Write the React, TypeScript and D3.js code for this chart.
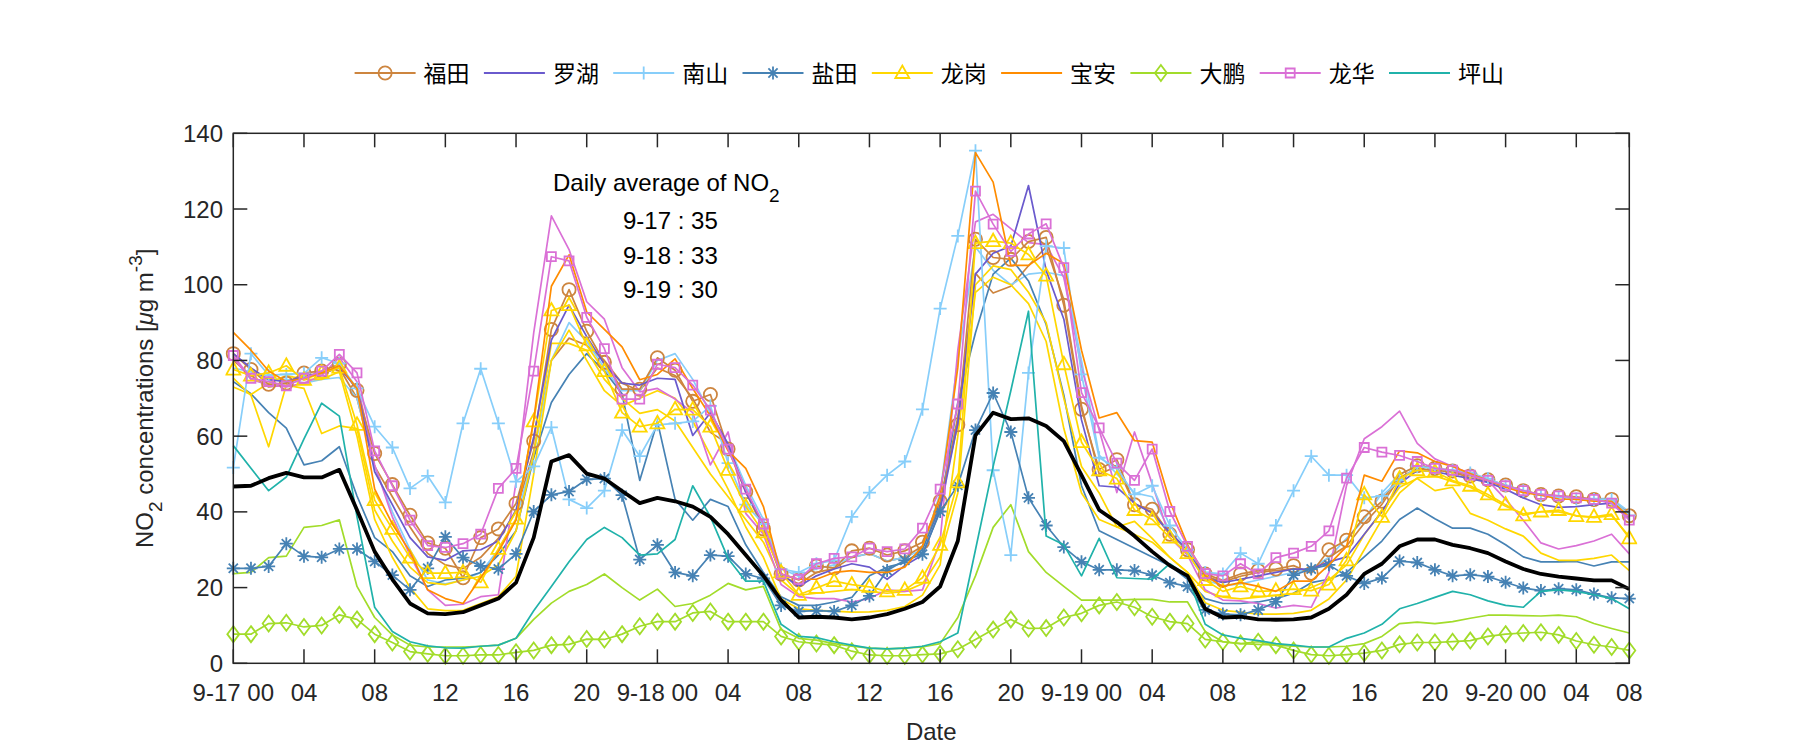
import React from 'react';
import * as d3 from 'd3';

// ---------- data (hourly NO2, 9-17 00 .. 9-20 07/08) ----------
const hourIndex = d3.range(80);
const xTickPos = [0, 4, 8, 12, 16, 20, 24, 28, 32, 36, 40, 44, 48, 52, 56, 60, 64, 68, 72, 76, 79];
const xTickLabels = ['9-17 00', '04', '08', '12', '16', '20', '9-18 00', '04', '08', '12', '16', '20', '9-19 00', '04', '08', '12', '16', '20', '9-20 00', '04', '08'];
const yTicks = [0, 20, 40, 60, 80, 100, 120, 140];

const futian = [81.8, 77.6, 73.7, 74.0, 76.7, 77.2, 79.0, 72.1, 55.4, 47.2, 39.1, 31.8, 30.4, 22.6, 33.2, 35.5, 42.2, 58.7, 88.2, 98.7, 87.7,
  79.5, 72.4, 72.4, 80.7, 77.4, 69.2, 71.0, 56.6, 45.3, 35.5, 23.6, 22.0, 25.7, 25.2, 29.7, 30.4, 28.6, 29.7, 32.0, 42.8, 63.0,
  112.0, 107.2, 106.7, 111.4, 112.5, 94.6, 67.1, 51.2, 53.8, 41.9, 40.7, 34.1, 30.0, 23.6, 21.9, 23.6, 24.5, 24.9, 25.8, 23.8,
  30.0, 32.5, 38.7, 42.8, 49.9, 52.2, 51.5, 50.8, 49.5, 48.5, 47.1, 45.6, 44.6, 44.2, 44.0, 43.3, 43.3, 39.0];
const futian2 = [80.0, 76.0, 73.0, 73.5, 76.0, 76.5, 78.0, 70.0, 52.0, 44.0, 36.0, 29.0, 26.0, 25.0, 28.0, 33.0, 40.0, 56.0, 80.0, 85.9, 84.0,
  80.0, 74.0, 72.0, 78.0, 76.0, 70.0, 61.0, 58.0, 46.0, 36.0, 23.0, 21.0, 24.0, 25.0, 28.0, 29.0, 27.0, 28.0, 31.0, 42.0, 65.0,
  103.0, 97.8, 99.6, 105.0, 110.0, 96.0, 68.0, 50.0, 52.0, 42.0, 40.0, 34.0, 30.0, 23.0, 21.5, 23.0, 24.0, 24.5, 25.0, 24.0,
  28.0, 31.0, 37.0, 42.0, 49.0, 51.5, 51.0, 50.5, 49.0, 48.0, 47.0, 45.5, 44.5, 44.0, 43.8, 43.2, 43.2, 39.5];
const luohu = [81.8, 78.0, 74.9, 74.4, 75.8, 76.7, 78.1, 72.6, 50.6, 41.9, 33.2, 28.1, 27.2, 29.7, 30.0, 32.3, 40.5, 59.8, 85.4, 94.6, 86.3,
  79.0, 74.0, 73.5, 75.3, 75.0, 60.2, 66.2, 57.9, 45.1, 36.8, 23.6, 20.3, 23.1, 24.9, 26.3, 25.4, 22.2, 25.8, 28.6, 40.5, 63.4,
  102.8, 108.3, 110.2, 126.2, 103.8, 90.9, 64.3, 46.9, 46.5, 42.3, 39.6, 34.6, 30.0, 22.6, 21.3, 22.2, 23.1, 24.0, 24.9, 24.9,
  26.8, 28.1, 34.1, 40.1, 47.4, 51.0, 50.6, 49.7, 48.8, 47.8, 46.0, 43.7, 41.9, 41.2, 41.4, 41.9, 42.3, 38.2];
const nanshan = [51.7, 81.8, 76.1, 76.3, 76.6, 80.7, 79.2, 72.6, 62.5, 57.0, 46.2, 49.5, 42.5, 63.4, 77.8, 63.4, 48.0, 52.0, 62.3, 43.3, 41.0,
  45.6, 61.6, 54.7, 63.0, 63.4, 63.9, 68.0, 52.9, 41.9, 36.8, 24.9, 24.0, 26.3, 27.2, 38.7, 45.1, 49.7, 53.3, 67.1, 93.7, 112.9,
  135.4, 51.0, 28.6, 76.7, 110.2, 109.7, 76.3, 54.3, 51.5, 44.6, 46.9, 36.4, 30.0, 24.0, 23.6, 29.1, 26.3, 36.4, 45.6, 54.7,
  49.7, 49.7, 43.7, 44.2, 48.3, 52.0, 51.5, 51.0, 50.3, 48.8, 46.9, 45.6, 44.4, 44.0, 43.4, 43.3, 43.3, 39.1];
const nanshan2 = [78.0, 77.0, 75.0, 75.0, 74.0, 75.0, 75.5, 70.0, 52.0, 40.0, 30.0, 22.0, 21.0, 22.0, 24.0, 30.0, 38.0, 55.0, 80.0, 90.0, 85.0,
  78.0, 72.0, 72.0, 80.0, 81.8, 75.0, 66.0, 58.0, 47.0, 38.0, 25.0, 23.0, 25.0, 26.0, 28.0, 29.0, 27.0, 28.0, 30.0, 45.0, 80.0,
  110.0, 103.8, 100.0, 102.8, 103.3, 102.4, 80.0, 55.0, 50.0, 45.0, 44.0, 35.0, 29.0, 22.0, 20.5, 21.0, 22.0, 23.0, 24.0, 25.0,
  28.0, 33.0, 38.0, 45.0, 50.0, 52.0, 51.5, 51.0, 50.0, 48.5, 47.0, 45.5, 44.5, 44.0, 43.5, 43.5, 43.5, 40.0];
const yantian = [25.1, 25.1, 25.6, 31.6, 28.3, 28.0, 30.2, 30.2, 26.9, 23.3, 19.4, 25.1, 33.4, 27.9, 25.7, 24.9, 28.9, 40.1, 44.5, 45.4, 48.6,
  48.8, 44.4, 27.4, 31.3, 24.0, 23.1, 28.6, 28.3, 23.6, 22.4, 15.3, 13.7, 13.9, 13.7, 15.3, 17.8, 24.5, 27.2, 28.8, 40.1, 47.0,
  61.6, 71.4, 61.1, 43.7, 36.4, 30.7, 26.8, 24.7, 24.7, 24.5, 23.3, 21.3, 20.3, 14.1, 13.0, 12.8, 14.1, 16.2, 23.3, 24.9,
  26.0, 23.1, 21.1, 22.5, 27.0, 26.6, 24.7, 23.1, 23.4, 22.9, 21.4, 19.9, 19.2, 19.7, 19.4, 18.3, 17.3, 17.1];
const yantian2 = [74.4, 71.2, 66.2, 62.1, 52.4, 53.5, 57.2, 44.2, 33.2, 29.5, 23.1, 20.3, 22.0, 22.5, 24.0, 28.6, 35.0, 54.3, 68.9, 76.3, 81.8,
  77.2, 71.2, 48.3, 63.9, 43.3, 37.8, 43.3, 41.4, 31.3, 24.0, 17.6, 15.3, 15.3, 16.2, 17.4, 23.1, 25.4, 26.6, 30.0, 41.4, 68.9,
  87.3, 102.8, 107.0, 101.0, 89.5, 70.8, 46.9, 35.0, 32.7, 30.4, 28.1, 25.8, 22.2, 17.1, 15.8, 15.8, 16.2, 17.1, 18.5, 21.3,
  22.2, 24.0, 28.1, 32.3, 38.0, 41.0, 38.2, 35.7, 35.7, 34.1, 31.3, 28.1, 26.8, 26.8, 26.9, 25.7, 26.8, 26.8];
const longgang = [77.6, 76.0, 76.7, 78.6, 74.9, 76.7, 78.1, 63.0, 43.1, 35.5, 27.9, 23.8, 23.8, 24.0, 21.4, 30.2, 38.2, 63.9, 93.2, 94.6, 84.0,
  77.2, 66.2, 62.5, 63.4, 67.1, 67.0, 62.5, 51.1, 41.4, 34.6, 24.0, 18.1, 19.9, 21.7, 20.8, 20.2, 19.0, 19.4, 22.6, 31.3, 47.8,
  111.0, 111.5, 111.0, 108.0, 102.4, 79.0, 58.4, 51.0, 48.8, 40.5, 38.0, 33.2, 29.1, 22.0, 19.0, 20.3, 19.0, 19.2, 19.6, 19.2,
  20.8, 27.2, 44.6, 38.7, 48.8, 51.0, 50.6, 48.3, 46.9, 44.6, 41.9, 39.1, 40.1, 40.5, 38.9, 38.7, 39.4, 33.0];
const longgang2 = [75.3, 70.8, 57.2, 73.5, 72.6, 60.7, 62.7, 62.0, 40.5, 32.3, 25.4, 21.3, 20.8, 22.0, 23.0, 26.0, 35.0, 55.0, 84.5, 84.5, 82.7,
  75.0, 70.0, 66.0, 67.0, 64.0, 57.0, 50.0, 44.0, 38.0, 32.0, 22.0, 18.0, 18.5, 19.0, 19.5, 19.0, 18.5, 19.0, 21.0, 28.0, 45.0,
  100.0, 105.0, 104.0, 98.0, 90.0, 70.0, 52.0, 45.0, 36.0, 37.5, 33.0, 28.0, 24.0, 19.0, 17.5, 17.0, 17.5, 18.0, 18.5, 20.0,
  22.0, 26.0, 34.0, 40.0, 46.5, 48.8, 45.6, 46.5, 39.6, 37.8, 35.5, 33.6, 29.1, 27.2, 27.2, 27.7, 28.6, 24.5];
const longgang3 = [73.0, 71.0, 74.0, 76.0, 75.0, 75.0, 77.0, 60.0, 38.0, 28.0, 20.0, 14.4, 13.9, 14.0, 15.8, 17.6, 23.0, 50.0, 80.0, 88.0, 80.0,
  72.0, 68.0, 70.0, 72.0, 70.0, 64.0, 55.0, 46.0, 36.0, 28.0, 17.0, 14.4, 14.0, 13.8, 13.5, 13.6, 14.0, 15.0, 18.0, 26.0, 60.0,
  98.0, 102.0, 100.0, 95.0, 85.0, 62.0, 45.0, 38.0, 36.0, 34.0, 32.0, 28.0, 24.0, 16.0, 14.0, 13.5, 13.0, 13.0, 13.2, 14.0,
  17.0, 22.0, 30.0, 38.0, 45.0, 49.0, 49.5, 48.0, 46.5, 44.0, 41.5, 39.5, 40.0, 40.0, 39.0, 38.5, 39.0, 33.5];
const baoan = [87.4, 82.7, 77.2, 74.4, 75.3, 76.7, 78.6, 72.6, 46.0, 36.8, 29.5, 19.4, 17.1, 15.8, 22.6, 29.5, 37.8, 64.3, 99.6, 107.9, 92.8,
  88.2, 83.6, 74.9, 76.3, 80.4, 72.6, 65.3, 56.1, 51.5, 41.4, 23.6, 22.2, 22.2, 24.0, 24.5, 24.0, 24.0, 25.4, 30.9, 44.2, 78.1,
  134.9, 127.1, 105.1, 105.1, 108.3, 105.6, 82.7, 64.8, 66.2, 58.8, 58.4, 42.8, 31.3, 23.1, 20.3, 21.3, 20.3, 19.0, 21.7, 21.7,
  26.0, 30.9, 49.7, 48.1, 56.1, 55.6, 53.3, 52.0, 50.1, 48.3, 46.5, 45.1, 44.4, 43.4, 43.3, 42.8, 42.8, 38.7];
const dapeng = [7.7, 7.7, 10.5, 10.7, 9.6, 10.0, 12.8, 11.6, 7.7, 5.5, 3.1, 2.5, 2.0, 2.0, 2.2, 2.2, 2.9, 3.4, 4.8, 5.0, 6.4,
  6.3, 7.7, 9.8, 11.0, 11.0, 13.3, 13.7, 11.0, 11.0, 11.0, 7.1, 5.7, 5.2, 4.8, 3.2, 2.2, 2.0, 2.0, 2.3, 2.5, 3.7,
  6.3, 8.9, 11.6, 9.2, 9.3, 12.1, 13.2, 15.3, 16.2, 14.8, 12.3, 11.0, 10.5, 6.3, 5.7, 5.2, 5.7, 4.8, 3.4, 2.3,
  2.0, 2.3, 2.7, 3.4, 5.0, 5.5, 5.5, 5.7, 6.0, 7.1, 7.7, 8.0, 8.2, 7.5, 5.9, 4.9, 4.3, 3.4];
const dapeng2 = [23.7, 24.0, 27.9, 28.3, 35.9, 36.4, 37.9, 20.3, 12.1, 7.5, 4.8, 4.3, 4.3, 4.3, 4.5, 4.8, 6.6, 11.6, 15.9, 19.0, 20.8,
  23.6, 20.0, 16.7, 19.6, 15.0, 15.8, 18.0, 21.1, 19.4, 20.3, 8.9, 6.6, 6.1, 5.2, 4.5, 4.0, 3.8, 4.0, 4.3, 5.2, 12.1,
  23.1, 35.9, 41.9, 29.5, 24.0, 20.3, 16.7, 16.7, 16.7, 16.9, 16.9, 16.2, 16.2, 8.4, 5.7, 5.2, 5.0, 4.8, 4.5, 4.3,
  4.3, 4.5, 5.2, 7.1, 10.5, 10.9, 10.5, 11.0, 11.9, 12.7, 12.7, 12.6, 12.5, 12.7, 12.3, 10.5, 9.2, 8.0];
const longhua = [81.3, 75.3, 74.4, 73.3, 75.3, 77.2, 81.6, 76.7, 56.1, 46.9, 37.8, 31.1, 30.6, 31.6, 34.1, 46.2, 51.5, 77.2, 107.4, 106.3, 91.4,
  83.1, 69.8, 69.8, 79.0, 78.1, 73.5, 66.9, 56.6, 46.0, 36.8, 23.6, 22.2, 26.3, 27.7, 28.1, 30.4, 29.5, 30.2, 35.7, 46.0, 68.5,
  124.7, 116.0, 108.8, 113.4, 116.1, 104.5, 71.5, 62.2, 52.9, 48.3, 56.6, 40.1, 30.9, 23.7, 23.1, 26.3, 23.6, 27.9, 29.1, 30.9,
  35.0, 48.9, 57.0, 55.8, 54.9, 53.3, 51.5, 51.0, 49.7, 48.3, 46.9, 45.6, 44.6, 44.2, 43.7, 43.3, 42.3, 37.8];
const longhua2 = [80.8, 75.0, 73.5, 73.0, 74.0, 76.0, 80.8, 74.4, 52.4, 38.7, 28.6, 19.4, 15.3, 15.6, 17.6, 18.1, 47.8, 87.3, 118.2, 109.3, 95.5,
  90.9, 78.1, 71.7, 72.6, 69.8, 66.2, 52.4, 61.1, 39.6, 34.1, 20.8, 17.6, 17.1, 17.1, 16.2, 17.1, 19.4, 19.0, 19.4, 32.3, 82.7,
  116.6, 118.6, 114.8, 111.1, 110.6, 101.9, 78.1, 61.6, 45.1, 61.1, 47.4, 33.2, 28.6, 19.4, 16.7, 16.5, 15.8, 14.6, 15.3, 14.8,
  24.0, 47.0, 59.3, 62.5, 66.6, 58.1, 54.0, 52.0, 50.1, 48.3, 43.3, 37.8, 31.8, 30.2, 31.1, 32.3, 34.1, 28.9];
const pingshan = [57.5, 51.5, 45.6, 49.2, 59.3, 68.7, 65.3, 38.7, 14.8, 8.4, 5.7, 4.6, 4.1, 4.0, 4.5, 4.8, 6.6, 13.9, 20.3, 26.8, 32.7,
  35.9, 33.2, 28.6, 28.9, 32.7, 46.9, 38.7, 27.7, 21.7, 21.7, 10.3, 7.1, 6.8, 5.7, 4.8, 4.0, 3.8, 4.0, 4.5, 5.7, 8.0,
  30.0, 52.0, 72.0, 93.0, 33.6, 31.3, 23.1, 33.0, 22.6, 22.4, 22.2, 26.3, 23.1, 10.3, 7.5, 6.6, 6.0, 5.2, 4.8, 4.3,
  4.3, 6.6, 8.0, 10.3, 14.4, 15.8, 17.4, 19.0, 18.1, 16.5, 15.3, 14.8, 19.0, 19.4, 19.0, 18.1, 17.1, 14.4];
const average = [46.7, 46.9, 48.9, 50.3, 49.1, 49.1, 51.1, 40.5, 29.5, 22.2, 15.8, 13.2, 13.0, 13.5, 15.3, 17.1, 21.3, 33.2, 53.3, 55.0, 50.1,
  48.8, 45.5, 42.3, 43.7, 42.8, 41.4, 38.7, 34.1, 28.6, 23.1, 16.7, 12.1, 12.3, 12.1, 11.6, 12.1, 13.0, 14.4, 16.2, 20.3, 32.3,
  60.2, 66.2, 64.5, 64.7, 62.7, 58.7, 49.7, 40.5, 37.3, 33.6, 29.5, 25.8, 23.1, 14.4, 12.1, 12.3, 11.6, 11.5, 11.6, 12.1,
  14.4, 18.1, 23.6, 26.3, 30.9, 32.7, 32.7, 31.3, 30.4, 29.1, 26.9, 24.9, 23.6, 22.9, 22.4, 21.9, 21.9, 19.6];

const dailyLabels = ['9-17 : 35', '9-18 : 33', '9-19 : 30'];

type Marker = 'none' | 'circle' | 'plus' | 'star' | 'triangle' | 'diamond' | 'square';
interface Series { name: string; data: number[]; color: string; marker: Marker; legend: boolean; width: number; }

const C = {
  futian: '#CD853F', luohu: '#6A5ACD', nanshan: '#87CEFA', yantian: '#4682B4', longgang: '#FFD700',
  baoan: '#FF8C00', dapeng: '#A2DC2A', longhua: '#DA70D6', pingshan: '#20B2AA',
};

const extraSeries: Series[] = [
  { name: 'futian2', data: futian2, color: C.futian, marker: 'none', legend: false, width: 1.7 },
  { name: 'nanshan2', data: nanshan2, color: C.nanshan, marker: 'none', legend: false, width: 1.7 },
  { name: 'yantian2', data: yantian2, color: C.yantian, marker: 'none', legend: false, width: 1.7 },
  { name: 'longgang2', data: longgang2, color: C.longgang, marker: 'none', legend: false, width: 1.7 },
  { name: 'longgang3', data: longgang3, color: C.longgang, marker: 'none', legend: false, width: 1.7 },
  { name: 'dapeng2', data: dapeng2, color: C.dapeng, marker: 'none', legend: false, width: 1.7 },
  { name: 'longhua2', data: longhua2, color: C.longhua, marker: 'none', legend: false, width: 1.7 },
];
const mainSeries: Series[] = [
  { name: '福田', data: futian, color: C.futian, marker: 'circle', legend: true, width: 1.7 },
  { name: '罗湖', data: luohu, color: C.luohu, marker: 'none', legend: true, width: 1.7 },
  { name: '南山', data: nanshan, color: C.nanshan, marker: 'plus', legend: true, width: 1.7 },
  { name: '盐田', data: yantian, color: C.yantian, marker: 'star', legend: true, width: 1.7 },
  { name: '龙岗', data: longgang, color: C.longgang, marker: 'triangle', legend: true, width: 1.7 },
  { name: '宝安', data: baoan, color: C.baoan, marker: 'none', legend: true, width: 1.7 },
  { name: '大鹏', data: dapeng, color: C.dapeng, marker: 'diamond', legend: true, width: 1.7 },
  { name: '龙华', data: longhua, color: C.longhua, marker: 'square', legend: true, width: 1.7 },
  { name: '坪山', data: pingshan, color: C.pingshan, marker: 'none', legend: true, width: 1.7 },
];
const avgSeries: Series = { name: 'avg', data: average, color: '#000000', marker: 'none', legend: false, width: 3.8 };

// ---------- layout ----------
const W = 1800, H = 750;
const plot = { left: 233.3, right: 1629.3, top: 133.3, bottom: 663.3 };
const AX = '#262626';
const FONT = '"Liberation Sans", Arial, Helvetica, sans-serif';
const CJK = '"Noto Sans CJK SC", sans-serif';

function markerPath(m: Marker): string {
  switch (m) {
    case 'plus': return 'M-6.5,0H6.5M0,-6.5V6.5';
    case 'star': return 'M-6.5,0H6.5M0,-6.5V6.5M-4.6,-4.6L4.6,4.6M-4.6,4.6L4.6,-4.6';
    case 'triangle': return 'M0,-7.5L7,5L-7,5Z';
    case 'diamond': return 'M0,-8L6,0L0,8L-6,0Z';
    case 'square': return 'M-4.5,-4.5H4.5V4.5H-4.5Z';
    default: return '';
  }
}

function MarkerShape({ m, color, x, y }: { m: Marker; color: string; x: number; y: number }) {
  if (m === 'none') return null;
  if (m === 'circle') return <circle cx={x} cy={y} r={6.6} fill="none" stroke={color} strokeWidth={1.8} />;
  return <path d={markerPath(m)} transform={`translate(${x},${y})`} fill="none" stroke={color} strokeWidth={1.8} strokeLinejoin="miter" />;
}

export default function App() {
  const x = d3.scaleLinear().domain([0, 79]).range([plot.left, plot.right]);
  const y = d3.scaleLinear().domain([0, 140]).range([plot.bottom, plot.top]);
  const line = d3.line<number>().x((_, i) => x(hourIndex[i])).y((d) => y(d));

  const drawSeries = (s: Series) => (
    <g key={s.name}>
      <path d={line(s.data) || ''} fill="none" stroke={s.color} strokeWidth={s.width} strokeLinejoin="round" />
      {s.marker !== 'none' && s.data.map((v, i) => (
        <MarkerShape key={i} m={s.marker} color={s.color} x={x(hourIndex[i])} y={y(v)} />
      ))}
    </g>
  );

  const legendX0 = 354.6, legendPitch = 129.3, legendY = 73, legendLine = 61;

  return (
    <svg width={W} height={H} style={{ position: 'absolute', left: 0, top: 0, background: '#fff' }}>
      <rect x={0} y={0} width={W} height={H} fill="#fff" />
      <defs>
        <clipPath id="plotclip">
          <rect x={plot.left - 8} y={plot.top - 2} width={plot.right - plot.left + 16} height={plot.bottom - plot.top + 12} />
        </clipPath>
      </defs>
      {/* data */}
      <g clipPath="url(#plotclip)">
        {extraSeries.map(drawSeries)}
        {mainSeries.map(drawSeries)}
        {drawSeries(avgSeries)}
      </g>
      {/* axes box */}
      <rect x={plot.left} y={plot.top} width={plot.right - plot.left} height={plot.bottom - plot.top} fill="none" stroke={AX} strokeWidth={1.5} />
      {xTickPos.map((t, i) => (
        <g key={'xt' + i}>
          <line x1={x(t)} x2={x(t)} y1={plot.bottom} y2={plot.bottom - 14} stroke={AX} strokeWidth={1.5} />
          <line x1={x(t)} x2={x(t)} y1={plot.top} y2={plot.top + 14} stroke={AX} strokeWidth={1.5} />
          <text x={x(t)} y={701} textAnchor="middle" fontFamily={FONT} fontSize={24} fill={AX}>{xTickLabels[i]}</text>
        </g>
      ))}
      {yTicks.map((t) => (
        <g key={'yt' + t}>
          <line x1={plot.left} x2={plot.left + 14} y1={y(t)} y2={y(t)} stroke={AX} strokeWidth={1.5} />
          <line x1={plot.right} x2={plot.right - 14} y1={y(t)} y2={y(t)} stroke={AX} strokeWidth={1.5} />
          <text x={223} y={y(t) + 8.5} textAnchor="end" fontFamily={FONT} fontSize={24} fill={AX}>{t}</text>
        </g>
      ))}
      {/* axis labels */}
      <text x={(plot.left + plot.right) / 2} y={740} textAnchor="middle" fontFamily={FONT} fontSize={24} fill={AX}>Date</text>
      <text transform={`translate(153,${(plot.top + plot.bottom) / 2}) rotate(-90)`} textAnchor="middle" fontFamily={FONT} fontSize={24} fill={AX}>
        NO<tspan fontSize={19} dy={9}>2</tspan><tspan dy={-9}> concentrations [</tspan><tspan fontStyle="italic">μ</tspan>g m<tspan fontSize={19} dy={-11}>-3</tspan><tspan dy={11}>]</tspan>
      </text>
      {/* annotation */}
      <text x={553} y={191} fontFamily={FONT} fontSize={24} fill="#000">
        Daily average of NO<tspan fontSize={19} dy={11}>2</tspan>
      </text>
      {dailyLabels.map((d, i) => (
        <text key={d} x={623} y={229 + i * 34.7} fontFamily={FONT} fontSize={24} fill="#000">{d}</text>
      ))}
      {/* legend */}
      {mainSeries.map((s, i) => {
        const lx = legendX0 + i * legendPitch;
        return (
          <g key={'lg' + s.name}>
            <line x1={lx} x2={lx + legendLine} y1={legendY} y2={legendY} stroke={s.color} strokeWidth={1.8} />
            <MarkerShape m={s.marker} color={s.color} x={lx + legendLine / 2} y={legendY} />
            <text x={lx + legendLine + 8} y={legendY + 8.5} fontFamily={CJK} fontSize={23} fill="#000">{s.name}</text>
          </g>
        );
      })}
    </svg>
  );
}
